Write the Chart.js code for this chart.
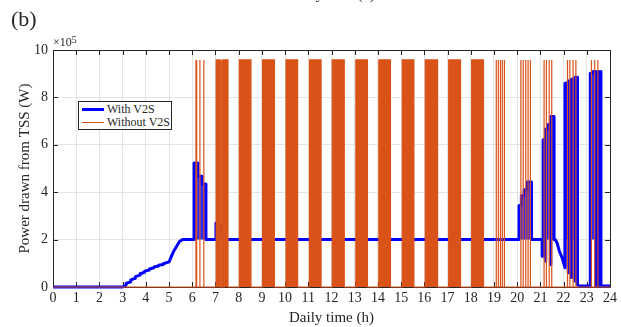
<!DOCTYPE html>
<html>
<head>
<meta charset="utf-8">
<script src="https://cdn.jsdelivr.net/npm/chart.js@4/dist/chart.umd.min.js"></script>
<style>
  html, body { margin:0; padding:0; background:#fff; }
  #wrap { position:relative; width:621px; height:327px; overflow:hidden; font-family:"Liberation Serif","Times New Roman",serif; color:#262626; }
  canvas { position:absolute; left:0; top:0; }
  .lbl { position:absolute; white-space:nowrap; }
  #legend { position:absolute; left:78px; top:101px; width:92px; height:27px; border:1px solid #262626; background:#fff; font-size:12px; }
  .row { position:absolute; left:2px; width:88px; height:14px; line-height:14px; white-space:nowrap; }
  .sw { position:absolute; left:1px; width:22px; }
  .tx { position:absolute; left:26px; top:0; white-space:nowrap; }
</style>
</head>
<body>
<div id="wrap">
  <canvas id="c" width="621" height="327"></canvas>
  <div class="lbl" style="left:290px; top:-13px; font-size:15px; line-height:15px;">Daily time (h)</div>
  <div class="lbl" style="left:11px; top:7px; font-size:22px; line-height:24px;">(b)</div>
  <div class="lbl" style="left:53px; top:35px; font-size:12px; line-height:14px;">×10<sup style="font-size:10px; position:relative; top:-2px; vertical-align:top;">5</sup></div>
  <div id="legend">
    <div class="row" style="top:0px;"><div class="sw" style="top:6px; height:3px; background:#0000ff;"></div><div class="tx">With V2S</div></div>
    <div class="row" style="top:13px;"><div class="sw" style="top:7px; height:1px; background:#d95319;"></div><div class="tx">Without V2S</div></div>
  </div>
</div>
<script>
// ---------- data ----------
const seriesNames = ["With V2S", "Without V2S"];
const xTickValues = [0,1,2,3,4,5,6,7,8,9,10,11,12,13,14,15,16,17,18,19,20,21,22,23,24];
const yTickValues = [0, 200000, 400000, 600000, 800000, 1000000];

// Without V2S: switching between 0 and this level
const orangeHigh = 958000;
// wide (dense) switching blocks [start h, end h]
const orangeBlocks = [
  [7.03,7.07],[7.10,7.14],[7.17,7.21],[7.24,7.28],[7.31,7.35],[7.38,7.42],[7.45,7.54],
  [8.03,8.53],[9.03,9.54],[10.04,10.54],[11.05,11.55],[12.03,12.55],
  [13.05,13.55],[14.04,14.54],[15.05,15.55],[16.04,16.57],[17.05,17.56],[18.04,18.55]
];
// isolated spikes (h)
const orangeSpikes = [
  6.16, 6.19, 6.33, 6.5,
  19.1, 19.19, 19.28, 19.36, 19.45,
  20.16, 20.26, 20.37, 20.47, 20.57,
  21.16, 21.26, 21.38, 21.49,
  22.17, 22.27, 22.41, 22.53,
  23.2, 23.34, 23.48
];

// With V2S: time (h) and power (W)
const blueT = [
  0, 3.0, 3.15, 3.15, 3.35, 3.35, 3.55, 3.55, 3.75, 3.75, 3.95, 3.95, 4.15, 4.15, 4.35, 4.35, 4.55, 4.55, 4.75, 4.75, 5.0, 5.2, 5.45, 5.58,
  6.08, 6.08, 6.24, 6.24, 6.42, 6.42, 6.59, 6.59,
  7.02, 7.02, 7.14, 7.14, 7.22, 7.22, 7.31, 7.31, 7.42, 7.42,
  20.08, 20.08, 20.18, 20.18, 20.3, 20.3, 20.44, 20.44, 20.62, 20.62,
  21.08, 21.08, 21.12, 21.12, 21.23, 21.23, 21.23, 21.35, 21.35, 21.45, 21.45, 21.45, 21.59, 21.59,
  21.64, 21.72, 21.82, 21.94, 22.06,
  22.06, 22.2, 22.2, 22.2, 22.34, 22.34, 22.34, 22.49, 22.49, 22.49, 22.6, 22.6, 22.67,
  23.15, 23.15, 23.28, 23.28, 23.4, 23.4, 23.52, 23.52, 23.61, 23.61, 24
];
const blueP = [
  0, 0, 8000, 15000, 22000, 30000, 37000, 44000, 50000, 56000, 62000, 67000, 72000, 76000, 81000, 85000, 89000, 92000, 95000, 98000, 106000, 151000, 192000, 200000,
  200000, 523000, 523000, 467000, 467000, 435000, 435000, 200000,
  200000, 270000, 270000, 263000, 263000, 246000, 246000, 214000, 214000, 200000,
  200000, 344000, 344000, 385000, 385000, 410000, 410000, 443000, 443000, 200000,
  200000, 130000, 130000, 621000, 621000, 109000, 667000, 667000, 687000, 687000, 95000, 719000, 719000, 200000,
  200000, 186000, 151000, 123000, 81000,
  860000, 860000, 60000, 869000, 869000, 40000, 877000, 877000, 25000, 885000, 885000, 10000, 4000,
  4000, 902000, 902000, 909000, 909000, 4000, 909000, 4000, 909000, 4000, 4000
];

// ---------- build datasets ----------
const bluePts = blueT.map((t, i) => ({x: t, y: blueP[i]}));
const blueFillPts = blueT.map((t, i) => ({x: t, y: Math.max(blueP[i], 200000)}));

const orangeEvents = orangeBlocks.map(b => [b[0], b[1]])
  .concat(orangeSpikes.map(s => [s, s]))
  .sort((a, b) => a[0] - b[0]);
const orangePts = [{x: 0, y: 0}];
orangeEvents.forEach(([s, e]) => {
  orangePts.push({x: s, y: 0}, {x: s, y: orangeHigh}, {x: e, y: orangeHigh}, {x: e, y: 0});
});
orangePts.push({x: 24, y: 0});

const AX = '#262626';
const tickFont = {family: 'Liberation Serif', size: 14};

const boxPlugin = {
  id: 'matlabBox',
  beforeDatasetsDraw(chart) {
    const {ctx, chartArea: a, scales: {x, y}} = chart;
    ctx.save();
    ctx.strokeStyle = AX;
    ctx.lineWidth = 1;
    ctx.beginPath();
    ctx.rect(Math.round(a.left) + 0.5, Math.round(a.top) + 0.5, Math.round(a.right - a.left), Math.round(a.bottom - a.top));
    ctx.stroke();
    const tl = 5;
    ctx.beginPath();
    xTickValues.forEach(v => {
      const px = Math.round(x.getPixelForValue(v)) + 0.5;
      ctx.moveTo(px, a.bottom); ctx.lineTo(px, a.bottom - tl);
      ctx.moveTo(px, a.top); ctx.lineTo(px, a.top + tl);
    });
    yTickValues.forEach(v => {
      const py = Math.round(y.getPixelForValue(v)) + 0.5;
      ctx.moveTo(a.left, py); ctx.lineTo(a.left + tl, py);
      ctx.moveTo(a.right, py); ctx.lineTo(a.right - tl, py);
    });
    ctx.stroke();
    ctx.restore();
  }
};

new Chart(document.getElementById('c'), {
  type: 'line',
  data: {
    datasets: [
      {
        label: seriesNames[1],
        data: orangePts,
        borderColor: '#d95319',
        backgroundColor: '#d95319',
        borderWidth: 1.2,
        fill: 'origin',
        pointRadius: 0,
        tension: 0,
        clip: 2,
        order: 0
      },
      {
        label: seriesNames[0],
        data: bluePts,
        borderColor: '#0000ff',
        borderWidth: 3,
        borderJoinStyle: 'round',
        fill: false,
        pointRadius: 0,
        tension: 0,
        clip: 3,
        order: 1
      },
      {
        label: '',
        data: blueFillPts,
        borderWidth: 0,
        borderColor: 'rgba(0,0,0,0)',
        backgroundColor: 'rgba(0,0,255,0.82)',
        fill: {value: 200000},
        pointRadius: 0,
        tension: 0,
        order: 2
      }
    ]
  },
  options: {
    responsive: false,
    animation: false,
    events: [],
    layout: {padding: {left: 0, right: 11, top: 50, bottom: 0}},
    plugins: {legend: {display: false}, tooltip: {enabled: false}},
    scales: {
      x: {
        type: 'linear', min: 0, max: 24,
        afterFit(s) { s.height = 40; },
        afterBuildTicks(s) { s.ticks = xTickValues.map(v => ({value: v})); },
        ticks: {font: tickFont, color: AX, padding: 3, maxRotation: 0, autoSkip: false, callback: v => String(v)},
        grid: {color: '#e4e4e4', drawTicks: false},
        border: {display: false},
        title: {display: true, text: 'Daily time (h)', font: {family: 'Liberation Serif', size: 15}, color: AX, padding: {top: 0, bottom: 0}}
      },
      y: {
        type: 'linear', min: 0, max: 1000000,
        afterFit(s) { s.width = 53; },
        afterBuildTicks(s) { s.ticks = yTickValues.map(v => ({value: v})); },
        ticks: {font: tickFont, color: AX, padding: 5, callback: v => String(v / 100000)},
        grid: {color: '#e4e4e4', drawTicks: false},
        border: {display: false},
        title: {display: true, text: 'Power drawn from TSS (W)', font: {family: 'Liberation Serif', size: 15}, color: AX, padding: {top: 16, bottom: 0}}
      }
    }
  },
  plugins: [boxPlugin]
});
</script>
</body>
</html>
